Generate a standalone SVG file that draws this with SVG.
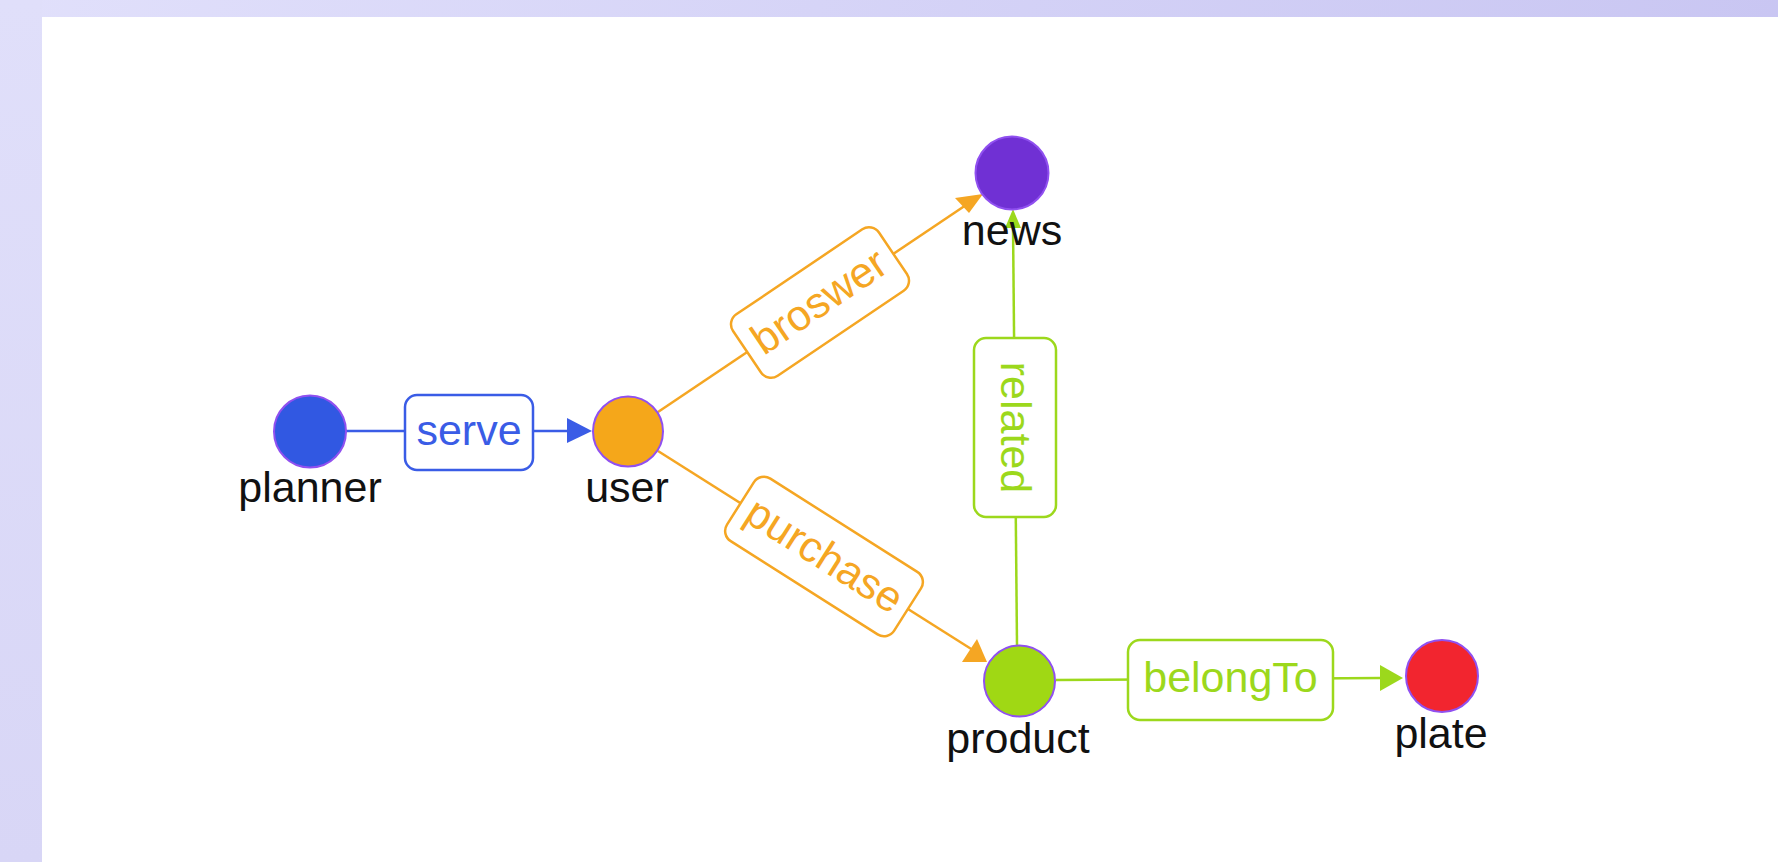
<svg xmlns="http://www.w3.org/2000/svg" width="1778" height="862" viewBox="0 0 1778 862">
<defs>
<linearGradient id="bg" x1="0" y1="0" x2="1" y2="0.2">
<stop offset="0" stop-color="#e1e0fb"/>
<stop offset="1" stop-color="#c8c5f2"/>
</linearGradient>
<linearGradient id="bgl" x1="0" y1="0" x2="0" y2="1">
<stop offset="0" stop-color="#e0dffa"/>
<stop offset="1" stop-color="#d8d6f6"/>
</linearGradient>
<style>
.node{stroke:#9050f0;stroke-width:2}
.nlabel{font-family:"Liberation Sans",Arial,sans-serif;font-size:43px;fill:#111;text-anchor:middle}
.elabel{font-family:"Liberation Sans",Arial,sans-serif;font-size:43px;text-anchor:middle}
.box{fill:#fff;stroke-width:2.5}
.line{fill:none;stroke-width:2.5}
.blue{stroke:#3a5ce6}
.orange{stroke:#f5a623}
.green{stroke:#9cd81c}
</style>
</defs>
<rect x="0" y="0" width="1778" height="862" fill="url(#bg)"/>
<rect x="0" y="0" width="42" height="862" fill="url(#bgl)"/>
<rect x="42" y="17" width="1736" height="845" fill="#ffffff"/>

<g id="connectors">
<g id="edge-serve">
<line class="line blue" x1="346" y1="431" x2="570" y2="431"/>
<polygon points="592,431 567,418 567,443" fill="#3a5ce6"/>
<rect class="box blue" x="405" y="395" width="128" height="75" rx="12"/>
<text class="elabel" x="469" y="445" fill="#3a5ce6">serve</text>
</g>
<g id="edge-broswer">
<line class="line orange" x1="658" y1="412" x2="972" y2="201"/>
<polygon points="955,198 983,194 969,213" fill="#f5a623"/>
<g transform="translate(820,302.5) rotate(-34)">
<rect class="box orange" x="-88" y="-37" width="176" height="74" rx="12"/>
<text class="elabel" x="0" y="13" fill="#f5a623">broswer</text>
</g>
</g>
<g id="edge-purchase">
<line class="line orange" x1="658" y1="451" x2="976" y2="652"/>
<polygon points="962,662 977,639 987,662" fill="#f5a623"/>
<g transform="translate(824,556.5) rotate(32.4)">
<rect class="box orange" x="-99" y="-37" width="198" height="74" rx="12"/>
<text class="elabel" x="0" y="13" fill="#f5a623">purchase</text>
</g>
</g>
<g id="edge-related">
<line class="line green" x1="1017" y1="645" x2="1013" y2="224"/>
<polygon points="1013,209 1005,228 1021,228" fill="#9cd81c"/>
<g transform="translate(1015,427.5) rotate(90)">
<rect class="box green" x="-89.5" y="-41" width="179" height="82" rx="12"/>
<text class="elabel" x="0" y="14" fill="#9cd81c">related</text>
</g>
</g>
<g id="edge-belongTo">
<line class="line green" x1="1056" y1="680" x2="1382" y2="678"/>
<polygon points="1403,678 1380,665 1380,691" fill="#9cd81c"/>
<rect class="box green" x="1128" y="640" width="205" height="80" rx="12"/>
<text class="elabel" x="1230.5" y="692" fill="#9cd81c">belongTo</text>
</g>
</g>

<g id="node-planner">
<circle class="node" cx="310" cy="431.5" r="36" fill="#3158e2"/>
<text class="nlabel" x="310" y="502">planner</text>
</g>
<g id="node-user">
<circle class="node" cx="628" cy="431.5" r="35" fill="#f5a71a"/>
<text class="nlabel" x="627" y="502">user</text>
</g>
<g id="node-news">
<circle class="node" cx="1012" cy="173" r="36.5" fill="#7030d4"/>
<text class="nlabel" x="1012" y="245">news</text>
</g>
<g id="node-product">
<circle class="node" cx="1019.5" cy="681" r="35.5" fill="#a0d814"/>
<text class="nlabel" x="1018" y="753">product</text>
</g>
<g id="node-plate">
<circle class="node" cx="1442" cy="676" r="36" fill="#f2252f"/>
<text class="nlabel" x="1441" y="748">plate</text>
</g>
</svg>
